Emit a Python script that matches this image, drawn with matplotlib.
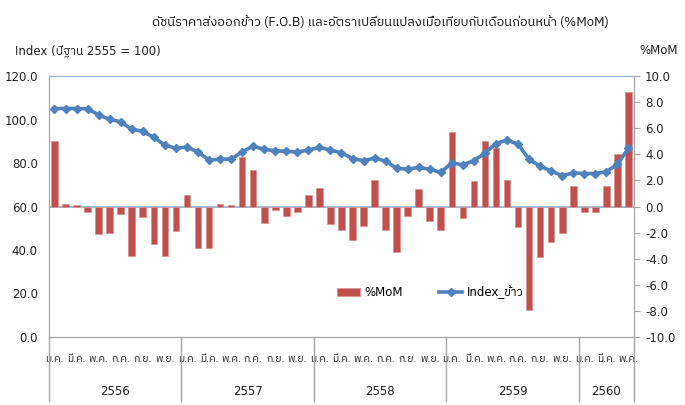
import matplotlib
matplotlib.use("Agg")
import matplotlib.pyplot as plt
from matplotlib import font_manager
from matplotlib.ft2font import FT2Font
import matplotlib.transforms as mtransforms
import numpy as np


def find_thai_font():
    # look for any installed font that actually has Thai glyphs
    best = None
    for f in font_manager.fontManager.ttflist:
        try:
            cmap = FT2Font(f.fname).get_charmap()
        except Exception:
            continue
        if 0x0E01 in cmap and 0x0E35 in cmap:
            if 'thai' in f.name.lower() or 'tahoma' in f.name.lower():
                return f.name
            if best is None:
                best = f.name
    return best


thai = find_thai_font()
fams = ['DejaVu Sans'] + ([thai] if thai else [])
thai_first = ([thai] if thai else []) + ['DejaVu Sans']
plt.rcParams['font.family'] = fams

# data (Jan 2556 .. May 2560)
index_rice = [105.1, 105.1, 105.1, 105.0, 102.1, 100.1, 99.0, 95.5, 94.6, 91.8, 88.3, 86.8,
              87.4, 85.0, 81.4, 81.8, 81.8, 85.2, 87.8, 86.3, 85.7, 85.4, 85.1, 86.0,
              87.2, 86.0, 84.7, 82.1, 81.1, 82.3, 80.9, 77.6, 77.2, 78.0, 77.2, 75.7,
              80.1, 79.2, 81.1, 84.6, 89.0, 90.6, 88.7, 81.7, 78.6, 76.3, 74.2, 75.5,
              75.2, 75.2, 76.0, 79.5, 86.8]
mom = [5.0, 0.2, 0.1, -0.4, -2.1, -2.0, -0.6, -3.8, -0.8, -2.9, -3.8, -1.9,
       0.9, -3.2, -3.2, 0.2, 0.15, 3.8, 2.8, -1.25, -0.25, -0.7, -0.45, 0.9,
       1.4, -1.3, -1.8, -2.6, -1.5, 2.0, -1.8, -3.5, -0.7, 1.35, -1.1, -1.8,
       5.7, -0.85, 1.95, 5.0, 4.5, 2.0, -1.6, -7.9, -3.85, -2.7, -2.0, 1.6,
       -0.4, -0.4, 1.55, 4.05, 8.75]
month_names = ['ม.ค.', 'ก.พ.', 'มี.ค.', 'เม.ย.', 'พ.ค.', 'มิ.ย.',
               'ก.ค.', 'ส.ค.', 'ก.ย.', 'ต.ค.', 'พ.ย.', 'ธ.ค.']
years = ['2556', '2557', '2558', '2559', '2560']
months_per_year = [12, 12, 12, 12, 5]

n = len(mom)
x = np.arange(n)

fig = plt.figure(figsize=(6.85, 4.05), dpi=100)
ax = fig.add_axes([0.0715, 0.168, 0.854, 0.644])
ax2 = ax.twinx()

bar_col = '#C0504D'
line_col = '#4F81BD'
axis_blue = '#95B3D7'
grey = '#A6A6A6'

bars = ax2.bar(x, mom, width=0.6, color=bar_col, edgecolor='#D99694', linewidth=0.6,
               label='%MoM', zorder=2)
ax2.axhline(0, color=axis_blue, lw=1.3, zorder=1)
ax2.set_ylim(-10, 10)
ax2.set_yticks(np.arange(-10, 10.1, 2))
ax2.set_yticklabels(['%.1f' % v for v in np.arange(-10, 10.1, 2)])

line, = ax.plot(x, index_rice, color=line_col, lw=2.6, marker='D', markersize=4.5,
                label='Index_ข้าว', zorder=3)
ax.set_ylim(0, 120)
ax.set_yticks(np.arange(0, 121, 20))
ax.set_yticklabels(['%.1f' % v for v in np.arange(0, 121, 20)])
ax.set_xlim(-0.5, n - 0.5)

ax.set_zorder(ax2.get_zorder() + 1)
ax.patch.set_visible(False)

# month ticks every other month
labels = [month_names[i % 12] for i in range(0, n, 2)]
ax.set_xticks(x[::2])
ax.set_xticklabels(labels, fontsize=7.5, color='#222222', family=thai_first)
ax.tick_params(axis='x', length=0, pad=13)
ax.tick_params(axis='y', length=0, labelsize=8.5, colors='#222222', pad=8)
ax2.tick_params(axis='y', length=4, color=grey, labelsize=8.5, pad=4)
for t in ax2.get_yticklabels():
    t.set_color('#222222')

for a in (ax, ax2):
    for s in ('left', 'right', 'bottom'):
        a.spines[s].set_color(grey)
    a.spines['top'].set_color(axis_blue)

# year separators and labels below the axis
trans = mtransforms.blended_transform_factory(ax.transData, ax.transAxes)
edges = np.concatenate([[0], np.cumsum(months_per_year)]) - 0.5
for e in edges:
    ax.plot([e, e], [0, -0.245], color=grey, lw=1, transform=trans, clip_on=False)
for i, yr in enumerate(years):
    ax.text((edges[i] + edges[i + 1]) / 2, -0.21, yr, transform=trans,
            ha='center', va='center', fontsize=8.5, color='#222222')

fig.text(0.222, 0.945, 'ดัชนีราคาส่งออกข้าว (F.O.B) และอัตราเปลี่ยนแปลงเมื่อเทียบกับเดือนก่อนหน้า (%MoM)',
         ha='left', va='center', fontsize=9.3, color='#111111', family=thai_first)
fig.text(0.022, 0.875, 'Index (ปีฐาน 2555 = 100)', ha='left', va='center', fontsize=8.5,
         color='#222222')
fig.text(0.99, 0.875, '%MoM', ha='right', va='center', fontsize=8.5, color='#222222')

fig.legend([bars, line], ['%MoM', 'Index_ข้าว'], loc='center',
           bbox_to_anchor=(0.628, 0.279), ncol=2, frameon=False, fontsize=8.5,
           handlelength=2.0, columnspacing=3.0, handletextpad=0.4)

fig.savefig('out.png', dpi=100)
